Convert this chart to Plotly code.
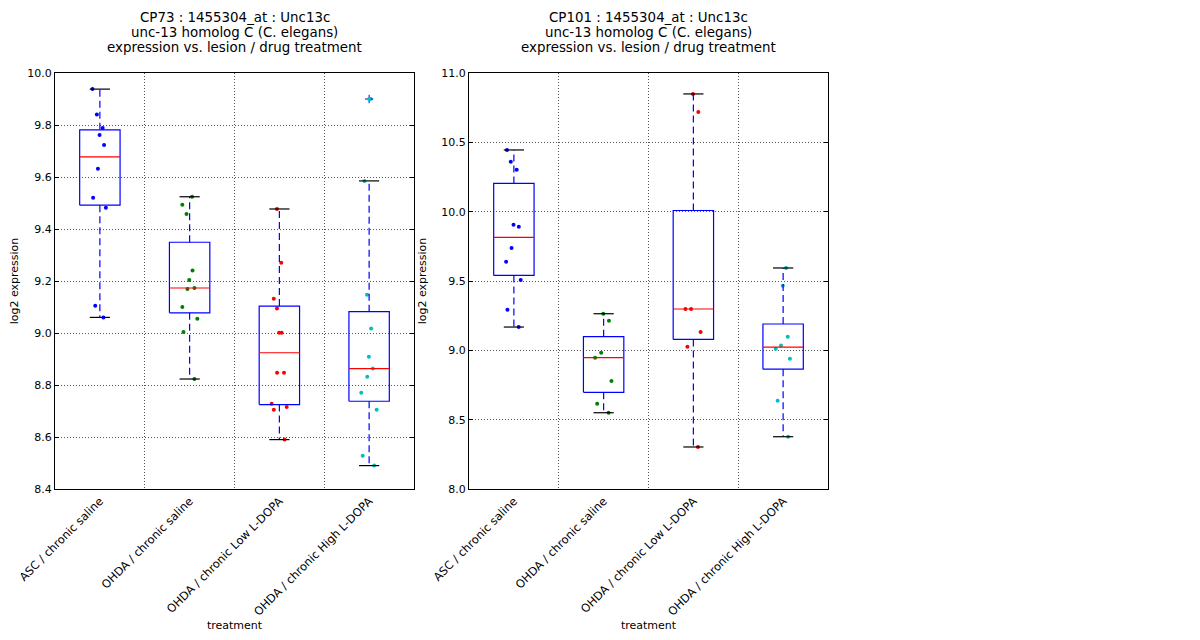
import numpy as np
import plotly.graph_objects as go

# ---------------- data ----------------
categories = ["ASC / chronic saline", "OHDA / chronic saline",
              "OHDA / chronic Low L-DOPA", "OHDA / chronic High L-DOPA"]

cp73_asc_saline = [9.938, 9.840, 9.788, 9.762, 9.723, 9.632, 9.520, 9.482, 9.105, 9.060]
cp73_ohda_saline = [9.524, 9.493, 9.458, 9.240, 9.204, 9.169, 9.173, 9.100, 9.055, 9.004, 8.823]
cp73_ohda_low = [9.477, 9.270, 9.132, 9.094, 9.001, 9.001, 8.847, 8.847, 8.728, 8.715, 8.705, 8.590]
cp73_ohda_high = [9.900, 9.585, 9.147, 9.017, 8.909, 8.863, 8.832, 8.770, 8.705, 8.528, 8.490]

cp101_asc_saline = [10.445, 10.360, 10.303, 9.906, 9.892, 9.738, 9.639, 9.507, 9.293, 9.168]
cp101_ohda_saline = [9.264, 9.214, 8.983, 8.947, 8.779, 8.615, 8.550]
cp101_ohda_low = [10.849, 10.719, 9.298, 9.298, 9.132, 9.026, 8.303]
cp101_ohda_high = [9.594, 9.466, 9.098, 9.034, 9.012, 8.940, 8.637, 8.377]

cp73_yticks = [8.4, 8.6, 8.8, 9.0, 9.2, 9.4, 9.6, 9.8, 10.0]
cp101_yticks = [8.0, 8.5, 9.0, 9.5, 10.0, 10.5, 11.0]

cp73_title = ["CP73 : 1455304_at : Unc13c", "unc-13 homolog C (C. elegans)",
              "expression vs. lesion / drug treatment"]
cp101_title = ["CP101 : 1455304_at : Unc13c", "unc-13 homolog C (C. elegans)",
               "expression vs. lesion / drug treatment"]

# ---------------- styles ----------------
FONT = "DejaVu Sans"
point_colors = ["#0000ff", "#008000", "#ff0000", "#00bfbf"]
BOX_W = 0.45
CAP_W = BOX_W / 2

# the page body adds an 8px offset, so the figure is 8px smaller on each side
W, H = 1192, 632
L, T = 47, 65
panel_w, panel_gap, plot_h = 359, 55, 416
plot_w = 2 * panel_w + panel_gap
R = W - L - plot_w
B = H - T - plot_h
dom1 = [0, panel_w / plot_w]
dom2 = [(panel_w + panel_gap) / plot_w, 1]


def box_stats(v):
    a = np.asarray(v, dtype=float)
    q1, med, q3 = np.percentile(a, [25, 50, 75])
    iqr = q3 - q1
    hi = a[a <= q3 + 1.5 * iqr].max()
    lo = a[a >= q1 - 1.5 * iqr].min()
    fliers = a[(a > hi) | (a < lo)]
    return q1, med, q3, lo, hi, fliers


fig = go.Figure()

panels = [
    ("x", "y", [cp73_asc_saline, cp73_ohda_saline, cp73_ohda_low, cp73_ohda_high]),
    ("x2", "y2", [cp101_asc_saline, cp101_ohda_saline, cp101_ohda_low, cp101_ohda_high]),
]

for xa, ya, groups in panels:
    for i, vals in enumerate(groups):
        pos = i + 1
        q1, med, q3, lo, hi, fliers = box_stats(vals)
        # jittered sample points
        fig.add_trace(go.Box(
            x=[pos] * len(vals), y=vals, boxpoints="all", jitter=0.5, pointpos=0,
            width=BOX_W, line=dict(color="rgba(0,0,0,0)", width=0),
            fillcolor="rgba(0,0,0,0)",
            marker=dict(color=point_colors[i], size=4),
            xaxis=xa, yaxis=ya, hoverinfo="y", showlegend=False))
        # box rectangle
        fig.add_trace(go.Scatter(
            x=[pos - BOX_W / 2, pos + BOX_W / 2, pos + BOX_W / 2, pos - BOX_W / 2, pos - BOX_W / 2],
            y=[q1, q1, q3, q3, q1], mode="lines",
            line=dict(color="#0000ff", width=1.2),
            xaxis=xa, yaxis=ya, hoverinfo="skip", showlegend=False))
        # whiskers (dashed)
        for a_, b_ in [(q3, hi), (q1, lo)]:
            fig.add_trace(go.Scatter(
                x=[pos, pos], y=[a_, b_], mode="lines",
                line=dict(color="#0000ff", width=1.2, dash="7px,4px"),
                xaxis=xa, yaxis=ya, hoverinfo="skip", showlegend=False))
        # caps
        for c in [hi, lo]:
            fig.add_trace(go.Scatter(
                x=[pos - CAP_W / 2, pos + CAP_W / 2], y=[c, c], mode="lines",
                line=dict(color="black", width=1.2),
                xaxis=xa, yaxis=ya, hoverinfo="skip", showlegend=False))
        # median
        fig.add_trace(go.Scatter(
            x=[pos - BOX_W / 2, pos + BOX_W / 2], y=[med, med], mode="lines",
            line=dict(color="#ff0000", width=1.2),
            xaxis=xa, yaxis=ya, hoverinfo="skip", showlegend=False))
        # fliers
        if len(fliers):
            fig.add_trace(go.Scatter(
                x=[pos] * len(fliers), y=list(fliers), mode="markers",
                marker=dict(symbol="cross-thin", size=6,
                            line=dict(color="#0000ff", width=1)),
                xaxis=xa, yaxis=ya, hoverinfo="y", showlegend=False))
            fig.add_trace(go.Scatter(
                x=[pos] * len(fliers), y=list(fliers), mode="markers",
                marker=dict(color=point_colors[i], size=4),
                xaxis=xa, yaxis=ya, hoverinfo="skip", showlegend=False))

xaxis_common = dict(
    range=[0.5, 4.5], tickmode="array", tickvals=list(range(1, len(categories) + 1)),
    ticktext=categories, tickangle=-45, showgrid=False, zeroline=False,
    showline=True, linecolor="black", linewidth=1, mirror=True, ticks="",
    tickfont=dict(size=11.4, color="black"), automargin=False,
    minor=dict(tickmode="array",
               tickvals=[k + 0.5 for k in range(1, len(categories))],
               showgrid=True, gridcolor="#555555", gridwidth=1, griddash="1px,2px",
               ticks=""),
    title=dict(text="treatment", font=dict(size=11, color="black"), standoff=0),
)

yaxis_common = dict(
    tickformat=".1f", tickmode="array", showgrid=True, gridcolor="#555555",
    gridwidth=1, griddash="1px,2px", zeroline=False, showline=True,
    linecolor="black", linewidth=1, mirror="ticks", ticks="inside", ticklen=4,
    tickcolor="black", tickfont=dict(size=11, color="black"), automargin=False,
    title=dict(text="log2 expression", font=dict(size=11, color="black"), standoff=12),
)

annotations = []
for dom, lines in [(dom1, cp73_title), (dom2, cp101_title)]:
    cx = (dom[0] + dom[1]) / 2
    for k, line in enumerate(lines):
        ypix = 18 + 14.7 * k  # page pixel of the line centre
        annotations.append(dict(
            text=line, xref="paper", yref="paper", x=cx,
            y=1 + (73 - ypix) / plot_h,
            xanchor="center", yanchor="middle", showarrow=False,
            font=dict(size=13.4, color="black", family=FONT)))

fig.update_layout(
    width=W, height=H,
    margin=dict(l=L, r=R, t=T, b=B, autoexpand=False),
    paper_bgcolor="white", plot_bgcolor="white",
    font=dict(family=FONT, color="black"),
    boxmode="overlay", showlegend=False,
    xaxis=dict(domain=dom1, anchor="y", **xaxis_common),
    yaxis=dict(domain=[0, 1], anchor="x", range=[8.4, 10.0], tickvals=cp73_yticks,
               **yaxis_common),
    xaxis2=dict(domain=dom2, anchor="y2", **xaxis_common),
    yaxis2=dict(domain=[0, 1], anchor="x2", range=[8.0, 11.0], tickvals=cp101_yticks,
                **yaxis_common),
    annotations=annotations,
)

fig.write_html("out.html")
